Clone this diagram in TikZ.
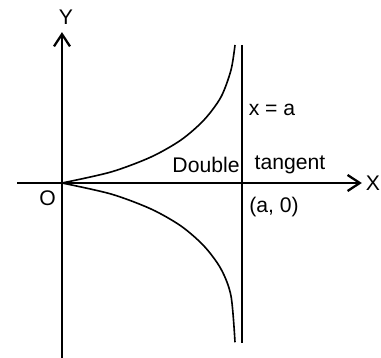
\documentclass[tikz,border=0pt]{standalone}
\usepackage{fontspec}
\setmainfont{Liberation Sans}
\usetikzlibrary{arrows.meta}
\tikzset{
  axis/.style={line width=2pt,-{Straight Barb[length=3.2mm,width=4.2mm,line width=1.7pt]}},
  curve/.style={line width=1.2pt},
  lbl/.style={font=\fontsize{15.8}{19}\selectfont,inner sep=0pt}
}
\begin{document}
\begin{tikzpicture}[x=1cm,y=1cm]
  \useasboundingbox (-1.627,-4.593) rectangle (8.373,4.803);
  \coordinate (O) at (0,0);
  \coordinate (xstart) at (-1.18,0);
  \coordinate (xend) at (7.87,0);
  \coordinate (ystart) at (0,-4.62);
  \coordinate (yend) at (0,3.96);
  \coordinate (ttop) at (4.724,3.622);
  \coordinate (tbot) at (4.724,-4.20);
  \draw[axis] (xstart) -- (xend);
  \draw[axis] (ystart) -- (yend);
  \draw[curve] (ttop) -- (tbot);
  \draw[curve] plot[smooth] coordinates {(0,0) (1.286,0.289) (2.336,0.682) (3.123,1.129) (3.727,1.654) (4.173,2.257) (4.436,2.966) (4.541,3.622)};
  \draw[curve] plot[smooth] coordinates {(0,0) (1.286,-0.289) (2.336,-0.682) (3.123,-1.129) (3.727,-1.654) (4.173,-2.257) (4.436,-2.966) (4.541,-4.18)};
  \node[lbl] (ylab) at (0.105,4.357) {Y};
  \node[lbl] (xlab) at (8.16,0) {X};
  \node[lbl] (olab) at (-0.38,-0.40) {O};
  \node[lbl] (xeqa) at (5.512,1.916) {x = a};
  \node[lbl] (dbl) at (3.78,0.472) {Double};
  \node[lbl] (tang) at (5.984,0.472) {tangent};
  \node[lbl] (pt) at (5.564,-0.630) {(a, 0)};
\end{tikzpicture}
\end{document}
